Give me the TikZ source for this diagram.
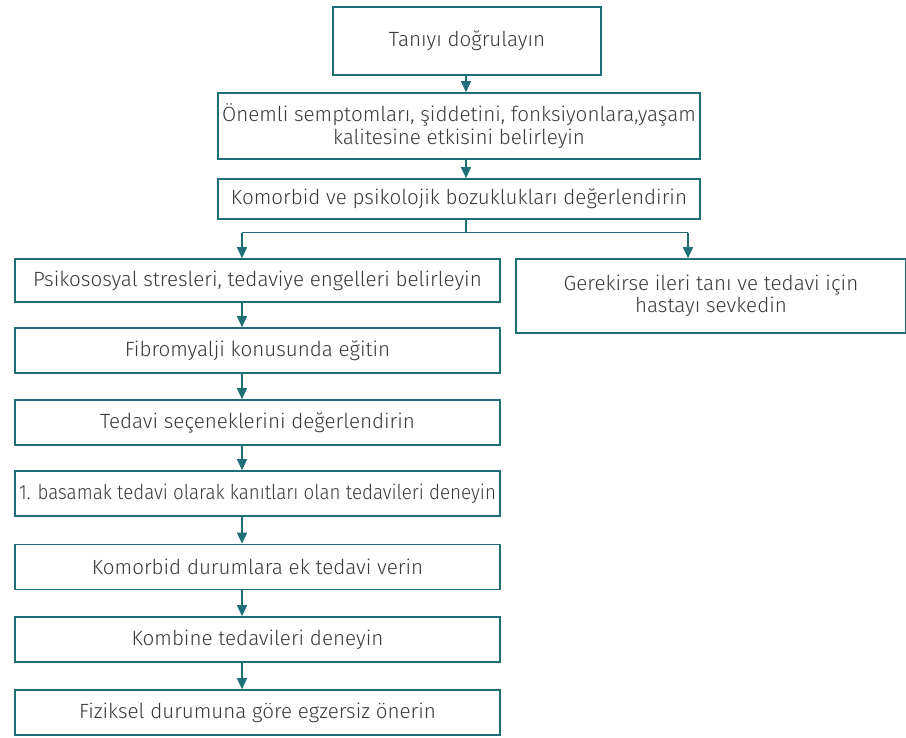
\documentclass[tikz,border=0pt]{standalone}
\usepackage{fontspec}
\setmainfont{Fira Sans}[UprightFont={* Light}]
\usetikzlibrary{arrows.meta}
\definecolor{teal1}{HTML}{1F6F78}
\definecolor{txt}{HTML}{3A3A3A}
\begin{document}
\begin{tikzpicture}[x=1pt,y=-1pt,
  box/.style={draw=teal1,line width=1.6pt,fill=white,inner sep=2pt,text=txt,align=center,
    font=\fontsize{20.6}{22.5}\selectfont},
  arr/.style={draw=teal1,line width=1.4pt,-{Triangle[width=10pt,length=11pt]}},
  ln/.style={draw=teal1,line width=1.4pt}]
\useasboundingbox (0,0) rectangle (906,738);
\coordinate (cT) at (466,0);
\coordinate (cL) at (242,0);
\coordinate (cR) at (688,0);
\node[box,minimum width=268pt,minimum height=68pt] (b1) at (467,41) {Tanıyı doğrulayın};
\node[box,minimum width=482pt,minimum height=66pt] (b2) at (459,126) {Önemli semptomları, şiddetini, fonksiyonlara,yaşam\\kalitesine etkisini belirleyin};
\node[box,minimum width=482pt,minimum height=40pt] (b3) at (459,199) {Komorbid ve psikolojik bozuklukları değerlendirin};
\node[box,minimum width=485pt,minimum height=43pt] (b4) at (257.5,280.5) {Psikososyal stresleri, tedaviye engelleri belirleyin};
\node[box,minimum width=390pt,minimum height=74pt] (b5) at (711,296) {Gerekirse ileri tanı ve tedavi için\\hastayı sevkedin};
\node[box,minimum width=485pt,minimum height=45pt] (b6) at (257.5,350.5) {Fibromyalji konusunda eğitin};
\node[box,minimum width=485pt,minimum height=45pt] (b7) at (257.5,422.5) {Tedavi seçeneklerini değerlendirin};
\node[box,minimum width=485pt,minimum height=45pt] (b8) at (257.5,493.5) {\scalebox{0.91}[1]{1. basamak tedavi olarak kanıtları olan tedavileri deneyin}};
\node[box,minimum width=485pt,minimum height=45pt] (b9) at (257.5,567) {Komorbid durumlara ek tedavi verin};
\node[box,minimum width=485pt,minimum height=45pt] (b10) at (257.5,639.5) {Kombine tedavileri deneyin};
\node[box,minimum width=485pt,minimum height=45pt] (b11) at (257.5,712.5) {Fiziksel durumuna göre egzersiz önerin};
\draw[arr] (b1.south -| cT) -- (b2.north -| cT);
\draw[arr] (b2.south -| cT) -- (b3.north -| cT);
\draw[ln] (b3.south -| cT) -- ++(0,13) coordinate (j);
\draw[ln] (j -| cL) -- (j -| cR);
\draw[arr] (j -| cL) -- (b4.north -| cL);
\draw[arr] (j -| cR) -- (b5.north -| cR);
\draw[arr] (b4.south -| cL) -- (b6.north -| cL);
\draw[arr] (b6.south -| cL) -- (b7.north -| cL);
\draw[arr] (b7.south -| cL) -- (b8.north -| cL);
\draw[arr] (b8.south -| cL) -- (b9.north -| cL);
\draw[arr] (b9.south -| cL) -- (b10.north -| cL);
\draw[arr] (b10.south -| cL) -- (b11.north -| cL);
\end{tikzpicture}
\end{document}
